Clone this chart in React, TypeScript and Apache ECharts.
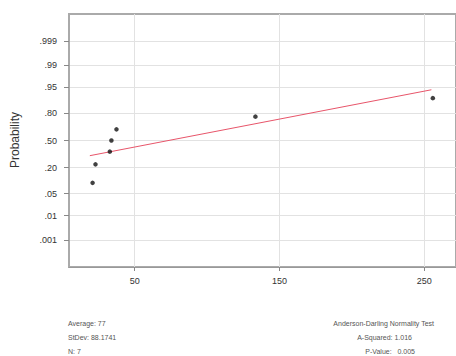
import React, { useEffect, useRef } from "react";
import * as echarts from "echarts";

const probLabels = [".001", ".01", ".05", ".20", ".50", ".80", ".95", ".99", ".999"];
const probValues = [0.001, 0.01, 0.05, 0.2, 0.5, 0.8, 0.95, 0.99, 0.999];
const xTicks = [50, 150, 250];
const xTickLabels = ["50", "150", "250"];

const dataX = [20.9, 22.9, 32.8, 33.9, 37.4, 133.4, 256];
const dataProb = [0.0946, 0.2297, 0.3649, 0.5, 0.6351, 0.7703, 0.9054];

const fitX = [19, 255];
const fitProb = [0.319, 0.942];

const statsLeft = ["Average: 77", "StDev: 88.1741", "N: 7"];
const statsRight = ["Anderson-Darling Normality Test", "A-Squared: 1.016", "P-Value:   0.005"];

// inverse standard normal CDF (Acklam)
function invNorm(p: number): number {
  const a = [-39.69683028665376, 220.9460984245205, -275.9285104469687, 138.357751867269, -30.66479806614716, 2.506628277459239];
  const b = [-54.47609879822406, 161.5858368580409, -155.6989798598866, 66.80131188771972, -13.28068155288572];
  const c = [-0.007784894002430293, -0.3223964580411365, -2.400758277161838, -2.549732539343734, 4.374664141464968, 2.938163982698783];
  const d = [0.007784695709041462, 0.3224671290700398, 2.445134137142996, 3.754408661907416];
  const pl = 0.02425;
  let q: number, r: number;
  if (p < pl) {
    q = Math.sqrt(-2 * Math.log(p));
    return (((((c[0] * q + c[1]) * q + c[2]) * q + c[3]) * q + c[4]) * q + c[5]) / ((((d[0] * q + d[1]) * q + d[2]) * q + d[3]) * q + 1);
  } else if (p <= 1 - pl) {
    q = p - 0.5;
    r = q * q;
    return ((((((a[0] * r + a[1]) * r + a[2]) * r + a[3]) * r + a[4]) * r + a[5]) * q) / (((((b[0] * r + b[1]) * r + b[2]) * r + b[3]) * r + b[4]) * r + 1);
  } else {
    q = Math.sqrt(-2 * Math.log(1 - p));
    return -(((((c[0] * q + c[1]) * q + c[2]) * q + c[3]) * q + c[4]) * q + c[5]) / ((((d[0] * q + d[1]) * q + d[2]) * q + d[3]) * q + 1);
  }
}

const zTicks = probValues.map(invNorm);

export default function App() {
  const ref = useRef<HTMLDivElement>(null);
  useEffect(() => {
    if (!ref.current) return;
    const chart = echarts.init(ref.current, null, { renderer: "svg" });
    const font = "Liberation Sans, Arial, sans-serif";
    const textStyle = (y: number, x: number, text: string, align: string) => ({
      type: "text",
      x,
      y,
      style: { text, fill: "#555", font: `7px ${font}`, textAlign: align, textVerticalAlign: "middle" },
      silent: true,
    });
    chart.setOption({
      animation: false,
      backgroundColor: "#fff",
      grid: {
        left: 69,
        top: 14,
        right: -2,
        bottom: 89,
        show: true,
        borderColor: "#aaa",
        borderWidth: 2,
        backgroundColor: "transparent",
      },
      xAxis: {
        type: "value",
        min: 4.6,
        max: 272,
        axisLine: { show: true, onZero: false, lineStyle: { color: "#999", width: 1 } },
        axisTick: { show: true, customValues: xTicks, length: 4, lineStyle: { color: "#888" } },
        axisLabel: {
          customValues: xTicks,
          margin: 9,
          color: "#333",
          fontSize: 9,
          fontFamily: font,
          formatter: (v: number) => xTickLabels[xTicks.indexOf(Math.round(v))] ?? "",
        },
        splitLine: { show: true, lineStyle: { color: "#e2e2e2", width: 1 } },
      },
      yAxis: {
        type: "value",
        min: -3.92,
        max: 3.92,
        axisLine: { show: true, onZero: false, lineStyle: { color: "#aaa", width: 2 } },
        axisTick: { show: true, customValues: zTicks, length: 5, lineStyle: { color: "#888" } },
        axisLabel: {
          customValues: zTicks,
          margin: 12,
          color: "#333",
          fontSize: 9,
          fontFamily: font,
          formatter: (v: number) => {
            let best = 0;
            let bd = Infinity;
            zTicks.forEach((z, i) => {
              const dd = Math.abs(z - v);
              if (dd < bd) { bd = dd; best = i; }
            });
            return probLabels[best];
          },
        },
        splitLine: { show: true, lineStyle: { color: "#e2e2e2", width: 1 } },
      },
      series: [
        {
          type: "line",
          data: fitX.map((x, i) => [x, invNorm(fitProb[i])]),
          symbol: "none",
          lineStyle: { color: "#e8556a", width: 1 },
          z: 2,
        },
        {
          type: "scatter",
          data: dataX.map((x, i) => [x, invNorm(dataProb[i])]),
          symbol: "circle",
          symbolSize: 4.5,
          itemStyle: { color: "#111" },
          z: 3,
        },
      ],
      graphic: [
        {
          type: "text",
          x: 15,
          y: 140,
          rotation: Math.PI / 2,
          style: { text: "Probability", fill: "#333", font: `12px ${font}`, textAlign: "center", textVerticalAlign: "middle" },
        },
        ...statsLeft.map((t, i) => textStyle(323 + i * 14, 68, t, "left")),
        textStyle(323, 434, statsRight[0], "right"),
        textStyle(337, 412, statsRight[1], "right"),
        textStyle(351, 415, statsRight[2], "right"),
      ],
    });
    return () => chart.dispose();
  }, []);
  return <div ref={ref} style={{ width: 456, height: 356, position: "absolute", left: 0, top: 0 }} />;
}
